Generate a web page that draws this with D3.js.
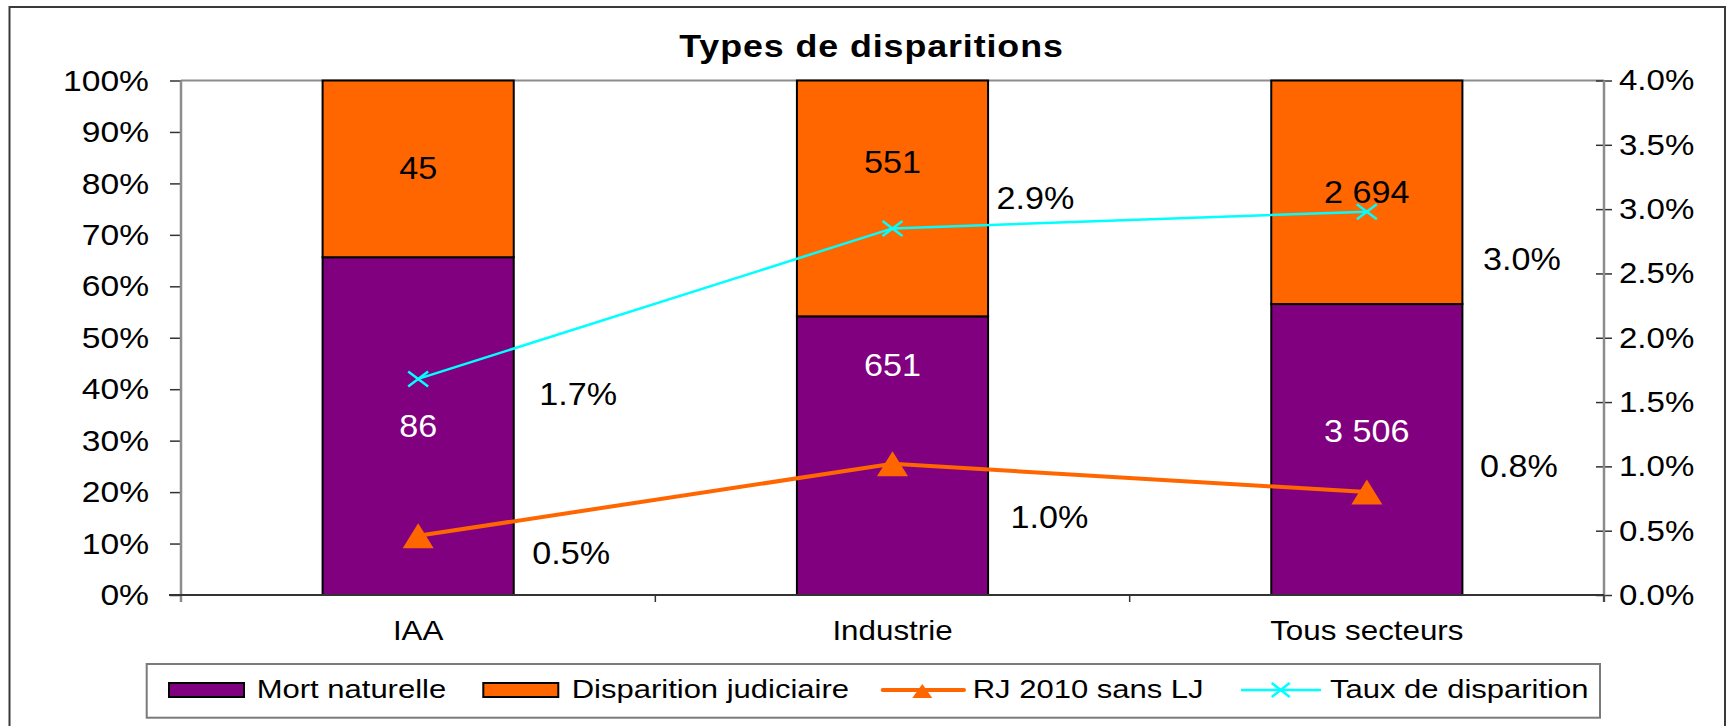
<!DOCTYPE html>
<html>
<head>
<meta charset="utf-8">
<script src="https://cdn.jsdelivr.net/npm/d3@7"></script>
<style>
  html, body { margin: 0; padding: 0; background: #fff; }
  svg { display: block; font-family: Arial, "Liberation Sans", sans-serif; }
</style>
</head>
<body>
<svg id="chart" width="1727" height="726"></svg>
<script>
// Categories and series
const categories = ["IAA", "Industrie", "Tous secteurs"];
const mortNaturelle = [86, 651, 3506];          // counts, bottom segment
const disparitionJudiciaire = [45, 551, 2694];  // counts, top segment
const rj2010SansLJ = [0.0046, 0.0102, 0.0080];  // right axis rate
const tauxDisparition = [0.0168, 0.0285, 0.0298]; // right axis rate
const leftTicks = [0, 0.1, 0.2, 0.3, 0.4, 0.5, 0.6, 0.7, 0.8, 0.9, 1.0];
const rightTicks = [0, 0.005, 0.01, 0.015, 0.02, 0.025, 0.03, 0.035, 0.04];
const legendLabels = ["Mort naturelle", "Disparition judiciaire", "RJ 2010 sans LJ", "Taux de disparition"];

// Colours
const PURPLE = "#800080", ORANGE = "#FF6600", CYAN = "#00FFFF";

// Layout
const plot = { left: 181, right: 1604, top: 80.5, bottom: 595 };
const SX = 1.12; // horizontal text stretch
// label nudges (px) for the bar segment counts and the line rate labels
const lowLabelShift = [0, -90, -18];
const highLabelShift = [-1, -36, 0];
const tauxLabelOffset = [[160, 15], [143, -30], [155, 48]];
const rjLabelOffset = [[153, 17], [157, 54], [152, -26]];

const svg = d3.select("#chart");

function label(g, x, y, str, o = {}) {
  return g.append("text")
    .attr("transform", `translate(${x},${y}) scale(${o.sx || SX},1)`)
    .attr("text-anchor", o.anchor || "middle")
    .attr("dy", o.dy === undefined ? "0.35em" : o.dy)
    .attr("font-size", o.size || 30)
    .attr("font-weight", o.weight || "normal")
    .attr("letter-spacing", o.ls || 0)
    .attr("fill", o.fill || "#000")
    .text(str);
}

// Outer frame
svg.append("rect")
  .attr("x", 9.5).attr("y", 7).attr("width", 1715.5).attr("height", 760)
  .attr("fill", "none").attr("stroke", "#3a3a3a").attr("stroke-width", 2);

// Title
label(svg, 871.5, 57, "Types de disparitions", { size: 32, weight: "bold", dy: 0, ls: 0.8 });

// Scales
const x = d3.scaleBand().domain(categories).range([plot.left, plot.right]).padding(0);
const yL = d3.scaleLinear().domain([0, 1]).range([plot.bottom, plot.top]);
const yR = d3.scaleLinear().domain([0, 0.04]).range([plot.bottom, plot.top]);
const barW = x.bandwidth() * 0.403;
const cx = c => x(c) + x.bandwidth() / 2;

const fmtCount = d3.formatLocale({ decimal: ".", thousands: " ", grouping: [3], currency: ["", ""] }).format(",d");
const fmtRate = d3.format(".1%");

// Plot area top border
svg.append("line")
  .attr("x1", plot.left).attr("x2", plot.right).attr("y1", plot.top).attr("y2", plot.top)
  .attr("stroke", "#8c8c8c").attr("stroke-width", 2);

// Stacked 100% bars
const stacks = categories.map((c, i) => {
  const total = mortNaturelle[i] + disparitionJudiciaire[i];
  return { c, i, low: mortNaturelle[i] / total, lowN: mortNaturelle[i], highN: disparitionJudiciaire[i] };
});
const bars = svg.append("g");
stacks.forEach(s => {
  bars.append("rect")
    .attr("x", cx(s.c) - barW / 2).attr("width", barW)
    .attr("y", yL(s.low)).attr("height", yL(0) - yL(s.low))
    .attr("fill", PURPLE).attr("stroke", "#000").attr("stroke-width", 2);
  bars.append("rect")
    .attr("x", cx(s.c) - barW / 2).attr("width", barW)
    .attr("y", yL(1)).attr("height", yL(s.low) - yL(1))
    .attr("fill", ORANGE).attr("stroke", "#000").attr("stroke-width", 2);
});

// Left axis
const axL = svg.append("g").attr("transform", `translate(${plot.left},0)`)
  .call(d3.axisLeft(yL).tickValues(leftTicks).tickFormat(d3.format(".0%")).tickSizeInner(11).tickSizeOuter(0).tickPadding(21));
axL.select(".domain").remove();
axL.selectAll(".tick line").attr("stroke", "#333").attr("stroke-width", 1.5);
axL.selectAll(".tick text").each(function () {
  const t = d3.select(this); const tx = +t.attr("x");
  t.attr("x", 0).attr("transform", `translate(${tx},0) scale(${SX},1)`)
   .attr("font-size", 30).attr("font-family", null).attr("fill", "#000");
});
svg.append("line").attr("x1", plot.left).attr("x2", plot.left).attr("y1", plot.top).attr("y2", plot.bottom + 7)
  .attr("stroke", "#8c8c8c").attr("stroke-width", 2.5);

// Right axis
const axR = svg.append("g").attr("transform", `translate(${plot.right},0)`)
  .call(d3.axisRight(yR).tickValues(rightTicks).tickFormat(d3.format(".1%")).tickSizeInner(8).tickSizeOuter(0).tickPadding(7));
axR.select(".domain").remove();
axR.selectAll(".tick line").attr("x1", -8).attr("stroke", "#333").attr("stroke-width", 1.5);
axR.selectAll(".tick text").each(function () {
  const t = d3.select(this); const tx = +t.attr("x");
  t.attr("x", 0).attr("transform", `translate(${tx},0) scale(${SX},1)`)
   .attr("font-size", 29.5).attr("font-family", null).attr("fill", "#000");
});
svg.append("line").attr("x1", plot.right).attr("x2", plot.right).attr("y1", plot.top).attr("y2", plot.bottom + 7)
  .attr("stroke", "#8c8c8c").attr("stroke-width", 2.5);

// Bottom category axis
const axB = svg.append("g");
axB.append("line").attr("x1", plot.left - 12).attr("x2", plot.right).attr("y1", plot.bottom).attr("y2", plot.bottom)
  .attr("stroke", "#333").attr("stroke-width", 2);
categories.forEach(c => {
  axB.append("line").attr("x1", x(c) + x.bandwidth()).attr("x2", x(c) + x.bandwidth())
    .attr("y1", plot.bottom).attr("y2", plot.bottom + 7).attr("stroke", "#333").attr("stroke-width", 1.5);
  label(axB, cx(c), 640, c, { size: 27.5, dy: 0, sx: 1.14 });
});

// Segment count labels
stacks.forEach(s => {
  label(svg, cx(s.c), (yL(0) + yL(s.low)) / 2 + lowLabelShift[s.i], fmtCount(s.lowN), { fill: "#fff", size: 30.5 });
  label(svg, cx(s.c), (yL(1) + yL(s.low)) / 2 + highLabelShift[s.i], fmtCount(s.highN), { size: 30.5 });
});

// Line series
const lineGen = d3.line().x((d, i) => cx(categories[i])).y(d => yR(d));
const triangle = (w, h) => `M0,${-h / 2}L${w / 2},${h / 2}L${-w / 2},${h / 2}Z`;
const cross = (w, h) => `M${-w / 2},${-h / 2}L${w / 2},${h / 2}M${-w / 2},${h / 2}L${w / 2},${-h / 2}`;

svg.append("path").datum(rj2010SansLJ).attr("d", lineGen)
  .attr("fill", "none").attr("stroke", ORANGE).attr("stroke-width", 4);
rj2010SansLJ.forEach((v, i) => {
  svg.append("path").attr("d", triangle(31, 25))
    .attr("transform", `translate(${cx(categories[i])},${yR(v)})`).attr("fill", ORANGE);
});

svg.append("path").datum(tauxDisparition).attr("d", lineGen)
  .attr("fill", "none").attr("stroke", CYAN).attr("stroke-width", 2.5);
tauxDisparition.forEach((v, i) => {
  svg.append("path").attr("d", cross(20, 15))
    .attr("transform", `translate(${cx(categories[i])},${yR(v)})`)
    .attr("fill", "none").attr("stroke", CYAN).attr("stroke-width", 2.5);
});

// Rate labels
tauxDisparition.forEach((v, i) => {
  label(svg, cx(categories[i]) + tauxLabelOffset[i][0], yR(v) + tauxLabelOffset[i][1], fmtRate(v), { size: 30.5 });
});
rj2010SansLJ.forEach((v, i) => {
  label(svg, cx(categories[i]) + rjLabelOffset[i][0], yR(v) + rjLabelOffset[i][1], fmtRate(v), { size: 30.5 });
});

// Legend
const lg = svg.append("g");
lg.append("rect").attr("x", 146.7).attr("y", 664).attr("width", 1453.3).attr("height", 53.7)
  .attr("fill", "#fff").attr("stroke", "#7a7a7a").attr("stroke-width", 2);
const legendSwatchX = [169, 483.3];
const legendLineX = [[882.7, 964, 922.3], [1241, 1321, 1280.7]];
const legendTextX = [256.7, 571.7, 972.7, 1330];
const legendY = 690;
[PURPLE, ORANGE].forEach((col, k) => {
  lg.append("rect").attr("x", legendSwatchX[k]).attr("y", 683).attr("width", 75).attr("height", 14)
    .attr("fill", col).attr("stroke", "#000").attr("stroke-width", 2);
});
lg.append("line").attr("x1", legendLineX[0][0]).attr("x2", legendLineX[0][1]).attr("y1", legendY).attr("y2", legendY)
  .attr("stroke", ORANGE).attr("stroke-width", 4).attr("stroke-linecap", "round");
lg.append("path").attr("d", triangle(20, 14)).attr("transform", `translate(${legendLineX[0][2]},${legendY + 1})`).attr("fill", ORANGE);
lg.append("line").attr("x1", legendLineX[1][0]).attr("x2", legendLineX[1][1]).attr("y1", legendY).attr("y2", legendY)
  .attr("stroke", CYAN).attr("stroke-width", 2.5);
lg.append("path").attr("d", cross(18, 14)).attr("transform", `translate(${legendLineX[1][2]},${legendY})`)
  .attr("fill", "none").attr("stroke", CYAN).attr("stroke-width", 2.5);
legendLabels.forEach((t, k) => {
  label(lg, legendTextX[k], 697.5, t, { size: 26.5, anchor: "start", dy: 0, sx: 1.17 });
});
</script>
</body>
</html>
